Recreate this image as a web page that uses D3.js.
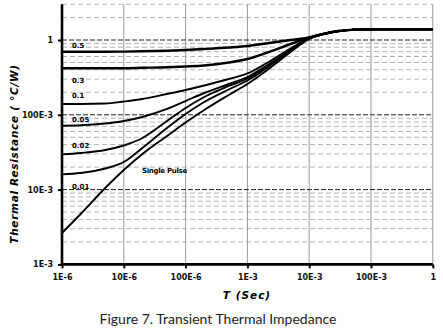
<!DOCTYPE html>
<html><head><meta charset="utf-8">
<script src="https://cdn.jsdelivr.net/npm/d3@7"></script>
<style>body{margin:0;background:#fff}</style>
</head><body><svg id="c" width="443" height="332"></svg>
<script>
const times = [1e-6,2e-6,5e-6,1e-5,2e-5,5e-5,1e-4,2e-4,5e-4,1e-3,2e-3,5e-3,1e-2,2e-2,3e-2,5e-2,1e-1,1];
const tail = [1.2405,1.319,1.369,1.394,1.394];
const d05 = [0.698,0.698,0.698,0.700,0.706,0.719,0.735,0.758,0.794,0.831,0.898,1.0,1.080].concat(tail);
const d03 = [0.4185,0.4185,0.4185,0.4198,0.4248,0.4315,0.442,0.456,0.500,0.557,0.670,0.884,1.080].concat(tail);
const d01 = [0.1395,0.1395,0.1416,0.1506,0.1626,0.1897,0.2146,0.2464,0.301,0.3566,0.4852,0.7698,1.0473].concat(tail);
const d005 = [0.0715,0.0724,0.0765,0.0826,0.0934,0.1196,0.1529,0.1956,0.2581,0.320,0.449,0.7464,1.0473].concat(tail);
const d002 = [0.0296,0.0309,0.0338,0.03886,0.04895,0.0826,0.1233,0.1730,0.2427,0.3056,0.4355,0.7350,1.0473].concat(tail);
const d001 = [0.0160,0.01667,0.01914,0.02339,0.03598,0.06662,0.1025,0.1483,0.2179,0.2874,0.4159,0.7238,1.0473].concat(tail);
const single = [0.00263,0.00472,0.0105,0.01828,0.02991,0.05206,0.07888,0.1159,0.1839,0.2581,0.3851,0.6912,1.0313].concat(tail);
const seriesNames = ["0.5","0.3","0.1","0.05","0.02","0.01","Single Pulse"];
const seriesVals = [d05,d03,d01,d005,d002,d001,single];
const xTickVals = [1e-6,1e-5,1e-4,1e-3,1e-2,1e-1,1];
const xTickLabels = ["1E-6","10E-6","100E-6","1E-3","10E-3","100E-3","1"];
const yTickVals = [1e-3,1e-2,1e-1,1];
const yTickLabels = ["1E-3","10E-3","100E-3","1"];
const yMax = 3;

const svg = d3.select("#c");
const x = d3.scaleLog().domain([1e-6,1]).range([62,432.8]);
const y = d3.scaleLog().domain([1e-3,1]).range([264.4,40]);
const yTop = y(yMax);

// minor horizontal grid
const minor = [];
for (let e=-3;e<=0;e++) for (let m=2;m<=9;m++){ const v=m*Math.pow(10,e); if (v<=yMax+1e-9) minor.push(v); }
svg.append("g").selectAll("line").data(minor).join("line")
  .attr("x1",x(1e-6)).attr("x2",x(1)).attr("y1",d=>y(d)).attr("y2",d=>y(d))
  .attr("stroke","#b4b4b4").attr("stroke-width",1).attr("stroke-dasharray","5,3");
// vertical grid
svg.append("g").selectAll("line").data(xTickVals.slice(1)).join("line")
  .attr("x1",d=>x(d)).attr("x2",d=>x(d)).attr("y1",yTop).attr("y2",y(1e-3))
  .attr("stroke","#999").attr("stroke-width",1);
// major horizontal dashed
svg.append("g").selectAll("line").data(yTickVals.slice(1)).join("line")
  .attr("x1",x(1e-6)).attr("x2",x(1)).attr("y1",d=>y(d)).attr("y2",d=>y(d))
  .attr("stroke","#222").attr("stroke-width",1).attr("stroke-dasharray","5,2");

// curves
const line = d3.line().x((d,i)=>x(times[i])).y(d=>y(d)).curve(d3.curveMonotoneX);
svg.append("g").selectAll("path").data(seriesVals).join("path")
  .attr("d",d=>line(d)).attr("fill","none").attr("stroke","#000")
  .attr("stroke-width",(d,i)=>i<2?2.4:1.9);

// axes
const xAxis = d3.axisBottom(x).tickValues(xTickVals).tickFormat((d,i)=>xTickLabels[i]).tickSize(4).tickPadding(6);
const gx = svg.append("g").attr("transform",`translate(0,${y(1e-3)})`).call(xAxis);
gx.select(".domain").attr("stroke-width",2.6).attr("d",`M${x(1e-6)},0H${x(1)}`);
gx.selectAll(".tick line").attr("stroke-width",2);
gx.selectAll("text").attr("font-family","DejaVu Sans").attr("font-weight","bold").attr("font-size",8).attr("fill","#111");
const yAxis = d3.axisLeft(y).tickValues(yTickVals).tickFormat((d,i)=>yTickLabels[i]).tickSize(4).tickPadding(5);
const gy = svg.append("g").attr("transform",`translate(${x(1e-6)},0)`).call(yAxis);
gy.select(".domain").attr("stroke-width",2.6).attr("d",`M0,${yTop}V${y(1e-3)}`);
gy.selectAll(".tick line").attr("stroke-width",2);
gy.selectAll("text").attr("font-family","DejaVu Sans").attr("font-weight","bold").attr("font-size",8).attr("fill","#111");

// series labels
const labelPos = [[72,48],[72,83],[72,98],[72,122],[72,148],[72,189],[142,173]];
svg.append("g").selectAll("text").data(seriesNames).join("text")
  .attr("x",(d,i)=>labelPos[i][0]).attr("y",(d,i)=>labelPos[i][1])
  .attr("font-family","DejaVu Sans").attr("font-weight","bold").attr("font-size",7)
  .attr("letter-spacing",(d,i)=>i==6?-0.3:0)
  .text(d=>d);

// titles
svg.append("text").attr("x",247).attr("y",299).attr("text-anchor","middle")
  .attr("font-family","DejaVu Sans").attr("font-weight","bold").attr("font-style","italic")
  .attr("font-size",10.5).attr("letter-spacing",1).text("T (Sec)");
svg.append("text").attr("transform","translate(18,154) rotate(-90)").attr("text-anchor","middle")
  .attr("font-family","DejaVu Sans").attr("font-weight","bold").attr("font-style","italic")
  .attr("font-size",10.5).attr("letter-spacing",0.7).text("Thermal Resistance ( °C/W)");
svg.append("text").attr("x",218).attr("y",324).attr("text-anchor","middle")
  .attr("font-family","Lato").attr("font-size",14).attr("fill","#222")
  .text("Figure 7. Transient Thermal Impedance");
</script></body></html>
